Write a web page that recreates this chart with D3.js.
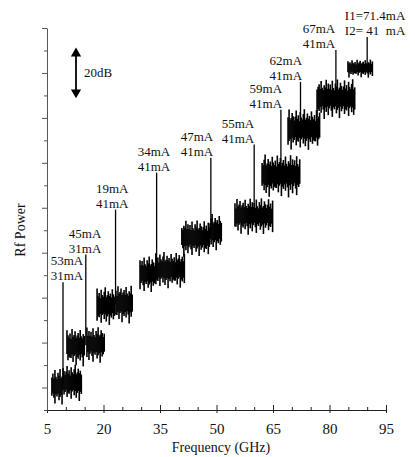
<!DOCTYPE html>
<html>
<head>
<meta charset="utf-8">
<script src="https://cdn.jsdelivr.net/npm/d3@7"></script>
<style>
  body { margin: 0; background: #fff; }
  svg text { font-family: "Liberation Serif", "Times New Roman", "DejaVu Serif", serif !important; fill: #111; white-space: pre; }
  .axis path, .axis line { stroke: #222; }
  .y.axis path, .y.axis line { stroke: #555; }
</style>
</head>
<body>
<div id="chart"></div>
<script>
// Spectrum segments (GHz, level in dB on the relative Rf power axis)
var segStart = [6.3, 9.25, 10.3, 15.6, 18.3, 23.3, 29.7, 33.9, 40.8, 48.3, 54.9, 62.1, 69.0, 76.7, 84.9];
var segEnd = [9.0, 14.3, 15.1, 20.4, 23.1, 27.8, 33.9, 41.6, 48.3, 51.5, 65.0, 72.2, 77.5, 86.8, 91.5];
var segLevel = [10.7, 12.4, 28.4, 29.3, 46.6, 47.5, 60.8, 62.6, 76.8, 79.5, 86.6, 104.7, 125.2, 138.9, 152.2];
var segSpread = [1.2, 1.2, 1.25, 1.2, 1.25, 1.25, 1.2, 1.2, 1.2, 1.2, 1.2, 1.4, 1.35, 1.3, 0.6];

// noise envelope (dB above / below the mean level)
var noiseUp = [3.1, 4.6, 2.8, 5.9, 3.4, 2.6, 4.9, 3.8, 6.3, 2.9, 3.5, 5.2, 4.1, 2.7, 3.9, 6.0, 3.2, 4.4,
  2.5, 5.5, 3.7, 3.0, 4.8, 6.4, 2.9, 3.6, 5.0, 3.3, 4.2, 2.8, 5.7, 3.9, 3.1, 4.5, 2.6, 6.1, 3.4,
  4.0, 5.3, 2.9, 3.8, 4.7, 3.0, 5.8, 3.5, 2.7, 4.3, 3.6, 6.2, 3.1, 4.9];
var noiseDown = [4.2, 3.0, 5.6, 3.5, 2.9, 6.8, 3.8, 4.5, 3.1, 5.1, 2.8, 4.0, 7.2, 3.3, 4.8, 3.0, 5.9, 3.6,
  2.7, 4.4, 6.5, 3.2, 3.9, 2.9, 5.3, 4.1, 3.4, 6.9, 3.0, 4.6, 3.7, 2.8, 5.5, 3.9, 4.3, 3.1, 6.2,
  3.5, 2.9, 4.9, 3.3, 5.8, 4.0, 3.2, 7.0, 3.6, 4.4, 2.8, 5.0, 3.8, 4.1];

// Beat-note spikes and bias currents
var spikeFreq = [9.25, 15.3, 23.2, 34.1, 48.5, 60.0, 67.1, 72.3, 81.7, 90.0];
var spikeBase = [11.5, 28.8, 47.0, 61.6, 78.0, 86.6, 104.7, 125.2, 138.9, 152.2];
var spikeTop = [56.8, 69.2, 89.2, 105.6, 112.3, 118.1, 133.6, 146.0, 160.2, 166.0];
var currentI1 = ["53mA", "45mA", "19mA", "34mA", "47mA", "55mA", "59mA", "62mA", "67mA", "I1=71.4mA"];
var currentI2 = ["31mA", "31mA", "41mA", "41mA", "41mA", "41mA", "41mA", "41mA", "41mA", "I2= 41  mA"];
var labelFreq = [10.3, 15.1, 22.3, 33.4, 44.8, 55.7, 63.1, 68.4, 77.2, 92.1];

// Axis ticks
var xTicks = [5, 20, 35, 50, 65, 80, 95];
var xMinorTicks = d3.range(5, 96, 5);
var yTicks = d3.range(0, 171, 10);

var margins = { top: 28, right: 29, bottom: 47, left: 47 };
var width = 415, height = 457;
var chartWidth = width - margins.left - margins.right;
var chartHeight = height - margins.top - margins.bottom;
var serif = "'Liberation Serif', 'Times New Roman', 'DejaVu Serif', serif";

var svg = d3.select("#chart")
  .append("svg")
  .attr("width", width)
  .attr("height", height)
  .attr("font-family", serif);

var chartElement = svg.append("g")
  .attr("transform", "translate(" + margins.left + "," + margins.top + ")");

var xScale = d3.scaleLinear().domain([5, 95]).range([0, chartWidth]);
var yScale = d3.scaleLinear().domain([0, 170]).range([chartHeight, 0]);

// x axis: crossing major ticks, small upward minor ticks
chartElement.append("g")
  .attr("class", "x axis")
  .attr("transform", "translate(0," + chartHeight + ")")
  .call(d3.axisBottom(xScale).tickValues(xTicks).tickSize(3).tickSizeOuter(0).tickPadding(10)
    .tickFormat(d3.format("d")))
  .call(function(g) {
    g.attr("font-family", serif);
    g.selectAll("text").style("font-size", "15px");
  });

chartElement.append("g")
  .attr("class", "x axis minor")
  .attr("transform", "translate(0," + chartHeight + ")")
  .call(d3.axisTop(xScale).tickValues(xMinorTicks).tickSize(3).tickFormat(""))
  .call(function(g) {
    g.select(".domain").remove();
    g.selectAll(".tick line").attr("y2", function(d) {
      return xTicks.indexOf(d) >= 0 ? -5 : -3;
    });
  });

// y axis: unlabelled 10 dB ticks
chartElement.append("g")
  .attr("class", "y axis")
  .call(d3.axisLeft(yScale).tickValues(yTicks).tickSize(4).tickSizeOuter(0).tickFormat(""))
  .call(function(g) {
    g.selectAll(".tick line").attr("x2", function(d, i) {
      return i % 2 === 1 ? -5 : -3;
    });
  });

// axis titles
svg.append("text")
  .attr("x", 221)
  .attr("y", 452)
  .attr("text-anchor", "middle")
  .style("font-size", "14px")
  .text("Frequency (GHz)");

svg.append("text")
  .attr("transform", "translate(25,230) rotate(-90)")
  .attr("text-anchor", "middle")
  .style("font-size", "14px")
  .text("Rf Power");

// noisy spectrum segments drawn as dense vertical strokes
var strokes = [];
var k = 0;
segStart.forEach(function(s, i) {
  for (var f = s; f <= segEnd[i]; f += 0.27) {
    strokes.push({
      f: f,
      hi: segLevel[i] + noiseUp[k % noiseUp.length] * segSpread[i],
      lo: segLevel[i] - noiseDown[(k + 17) % noiseDown.length] * segSpread[i]
    });
    k++;
  }
});

chartElement.append("g")
  .attr("class", "trace")
  .selectAll("line")
  .data(strokes)
  .enter()
  .append("line")
  .attr("x1", function(d) { return xScale(d.f); })
  .attr("x2", function(d) { return xScale(d.f); })
  .attr("y1", function(d) { return yScale(d.hi); })
  .attr("y2", function(d) { return yScale(d.lo); })
  .attr("stroke", "#000")
  .attr("stroke-width", 1.6);

// spikes / leader lines
chartElement.append("g")
  .attr("class", "spikes")
  .selectAll("line")
  .data(spikeFreq)
  .enter()
  .append("line")
  .attr("x1", function(d) { return xScale(d); })
  .attr("x2", function(d) { return xScale(d); })
  .attr("y1", function(d, i) { return yScale(spikeBase[i]); })
  .attr("y2", function(d, i) { return yScale(spikeTop[i]); })
  .attr("stroke", "#000")
  .attr("stroke-width", 1.3);

// current labels
var labels = chartElement.append("g").attr("class", "labels")
  .selectAll("text")
  .data(labelFreq)
  .enter()
  .append("text")
  .attr("text-anchor", "middle")
  .style("font-size", "13px");

labels.append("tspan")
  .attr("x", function(d) { return xScale(d); })
  .attr("y", function(d, i) { return yScale(spikeTop[i]) - 17; })
  .text(function(d, i) { return currentI1[i]; });

labels.append("tspan")
  .attr("x", function(d) { return xScale(d); })
  .attr("y", function(d, i) { return yScale(spikeTop[i]) - 2; })
  .text(function(d, i) { return currentI2[i]; });

// 20 dB scale arrow
var arrowX = xScale(12.7);
var arrow = chartElement.append("g").attr("class", "scale-arrow");
arrow.append("line")
  .attr("x1", arrowX).attr("x2", arrowX)
  .attr("y1", yScale(160) + 5).attr("y2", yScale(140) - 5)
  .attr("stroke", "#000").attr("stroke-width", 1.8);
arrow.append("path")
  .attr("d", d3.symbol().type(d3.symbolTriangle).size(45))
  .attr("transform", "translate(" + arrowX + "," + (yScale(160) + 3) + ")");
arrow.append("path")
  .attr("d", d3.symbol().type(d3.symbolTriangle).size(45))
  .attr("transform", "translate(" + arrowX + "," + (yScale(140) - 3) + ") rotate(180)");
arrow.append("text")
  .attr("x", arrowX + 8)
  .attr("y", yScale(150) + 4)
  .style("font-size", "13px")
  .text("20dB");
</script>
</body>
</html>
